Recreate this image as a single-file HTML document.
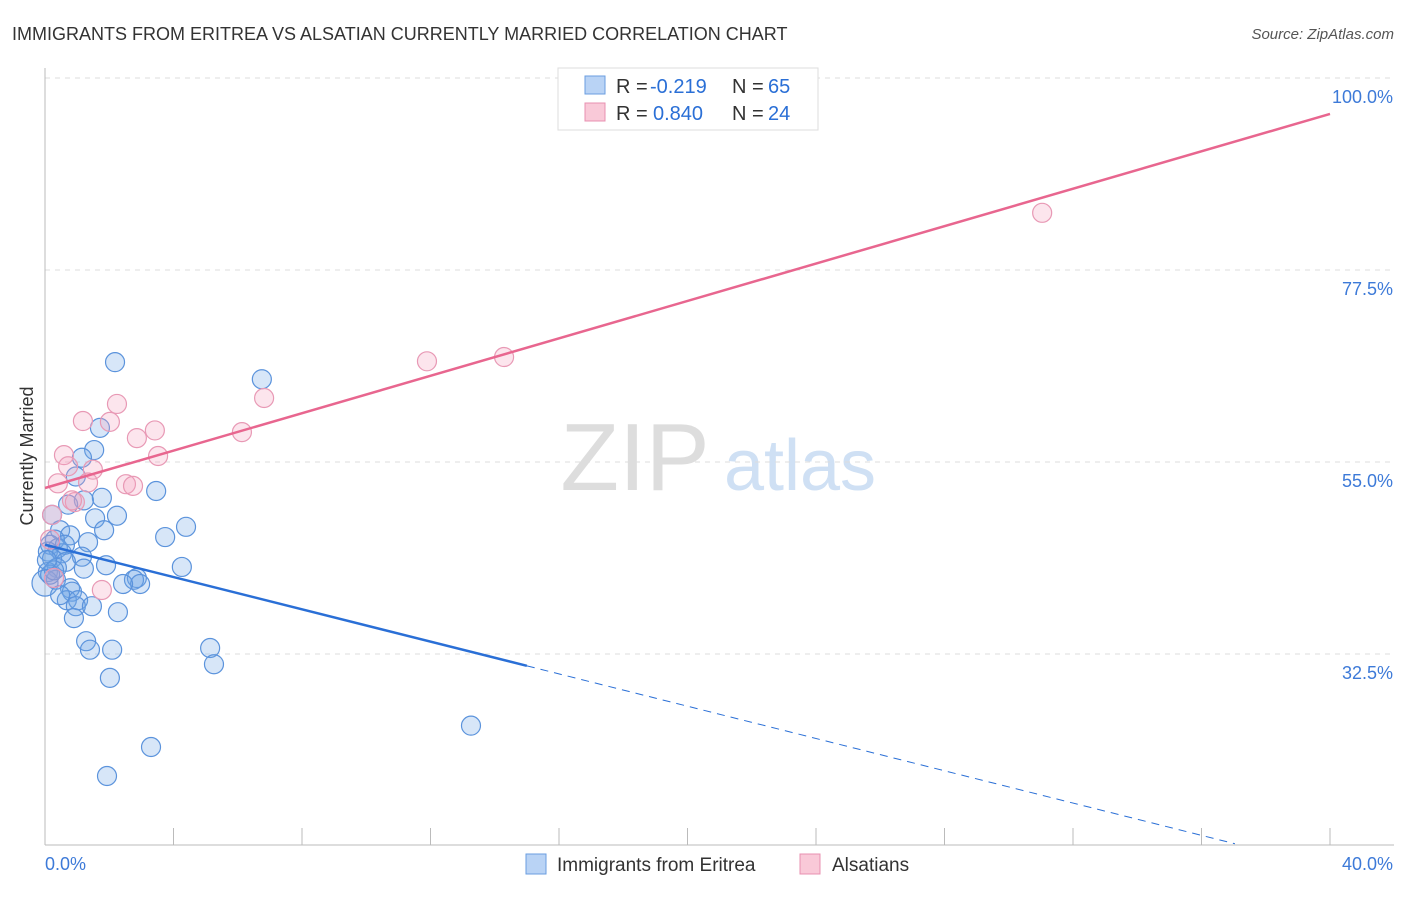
<!DOCTYPE html>
<html><head><meta charset="utf-8"><style>
body{margin:0;background:#fff;font-family:"Liberation Sans",sans-serif;}
svg text{font-family:"Liberation Sans",sans-serif;}
</style></head><body>
<svg id="chart" width="1406" height="892" xmlns="http://www.w3.org/2000/svg">
<text x="12" y="40" font-size="18" fill="#333">IMMIGRANTS FROM ERITREA VS ALSATIAN CURRENTLY MARRIED CORRELATION CHART</text>
<text x="1394" y="39" font-size="15" fill="#555" font-style="italic" text-anchor="end">Source: ZipAtlas.com</text>
<text transform="translate(33,456) rotate(-90)" font-size="18" fill="#333" text-anchor="middle">Currently Married</text>
<g>
<text x="635" y="490" font-size="96" fill="#ddd" font-family="Liberation Serif" text-anchor="middle">ZIP</text>
<text x="800" y="490" font-size="72" fill="#cfe0f4" text-anchor="middle">atlas</text>
</g>
<g id="grid"></g><g id="marks"></g>
<g>
<rect x="558" y="68" width="260" height="62" fill="#fff" stroke="#ddd"/>
<rect x="585" y="76" width="20" height="18" fill="#b9d3f5" stroke="#6a9ee0"/>
<text x="616" y="93" font-size="20" fill="#333">R =</text>
<text x="650" y="93" font-size="20" fill="#2a6fd6">-0.219</text>
<text x="732" y="93" font-size="20" fill="#333">N =</text>
<text x="768" y="93" font-size="20" fill="#2a6fd6">65</text>
<rect x="585" y="103" width="20" height="18" fill="#f9c9d8" stroke="#e890b0"/>
<text x="616" y="120" font-size="20" fill="#333">R =</text>
<text x="653" y="120" font-size="20" fill="#2a6fd6">0.840</text>
<text x="732" y="120" font-size="20" fill="#333">N =</text>
<text x="768" y="120" font-size="20" fill="#2a6fd6">24</text>
</g>
<g>
<rect x="526" y="854" width="20" height="20" fill="#b9d3f5" stroke="#6a9ee0"/>
<text x="557" y="871" font-size="19" fill="#333">Immigrants from Eritrea</text>
<rect x="800" y="854" width="20" height="20" fill="#f9c9d8" stroke="#e890b0"/>
<text x="832" y="871" font-size="19" fill="#333">Alsatians</text>
</g>
</svg>
<script>
const blueX=[2.18,6.75,1.71,1.53,1.15,0.96,3.46,1.77,1.21,0.72,2.24,1.56,0.22,1.84,4.39,0.47,0.78,3.74,1.34,0.31,0.16,0.40,0.09,0.53,1.15,0.22,0.65,1.90,4.26,0.37,1.21,0.09,2.86,2.77,2.96,2.43,0.34,0.78,0.84,0.68,1.03,0.96,1.46,2.27,0.90,1.28,1.40,2.09,5.14,5.26,2.02,13.26,3.30,1.93,0.0,0.16,0.47,0.62,0.28,0.06];
const blueY=[66.7,64.7,59.0,56.4,55.5,53.3,51.6,50.8,50.5,50.0,48.7,48.4,48.8,47.0,47.4,47.0,46.4,46.2,45.6,45.9,45.3,44.9,44.5,44.3,43.9,43.7,43.3,42.9,42.7,42.6,42.5,42.1,41.4,41.2,40.7,40.7,41.2,40.2,39.8,38.8,38.8,38.1,38.1,37.4,36.7,34.0,33.0,33.0,33.2,31.3,29.7,24.1,21.6,18.2,40.8,41.8,39.4,45.3,42.3,43.5];
const pinkX=[31.04,14.29,11.89,6.82,2.24,2.02,1.18,3.42,6.13,2.86,0.59,3.52,0.72,1.49,1.34,0.40,2.52,2.74,0.93,0.22,1.77,0.28,0.16,0.84];
const pinkY=[84.2,67.3,66.8,62.5,61.8,59.7,59.8,58.7,58.5,57.8,55.8,55.7,54.5,54.1,52.6,52.5,52.4,52.2,50.3,48.8,40.0,41.4,45.9,50.5];
const yTicks=[100,77.5,55,32.5];
const yTickLabels=["100.0%","77.5%","55.0%","32.5%"];
const blueTrend=[45.3,-0.946];
const pinkTrend=[51.95,1.096];
const sx=v=>45+v*32.125, sy=v=>78+(100-v)*8.533;
const NS="http://www.w3.org/2000/svg";
function mk(tag,attrs,parent){const e=document.createElementNS(NS,tag);for(const k in attrs)e.setAttribute(k,attrs[k]);parent.appendChild(e);return e;}
const g=document.getElementById('grid'), m=document.getElementById('marks');
yTicks.forEach((t,i)=>{
 const l=mk('line',{x1:45,x2:1394,y1:sy(t),y2:sy(t),stroke:'#ddd','stroke-dasharray':'5,5'},g);
 
 
 const tx=mk('text',{x:1393,y:sy(t)+25,'font-size':18,fill:'#3d7ad8','text-anchor':'end'},g);
 tx.textContent=yTickLabels[i];
 
 
});
const ax=mk('line',{x1:45,x2:45,y1:68,y2:845,stroke:'#bbb'},g);


const bx=mk('line',{x1:45,x2:1394,y1:845,y2:845,stroke:'#bbb'},g);


for(let i=0;i<=10;i++){const t=mk('line',{x1:sx(i*4),x2:sx(i*4),y1:828,y2:845,stroke:'#bbb'},g);
 
 }
const x0=mk('text',{x:45,y:870,'font-size':18,fill:'#3d7ad8'},g);x0.textContent='0.0%';


const x1=mk('text',{x:1393,y:870,'font-size':18,fill:'#3d7ad8','text-anchor':'end'},g);x1.textContent='40.0%';


blueX.forEach((x,i)=>{const c=mk('circle',{cx:sx(x),cy:sy(blueY[i]),r:(i==54?13:9.5),fill:'rgba(110,165,230,0.28)',stroke:'#5b93dc','stroke-width':1.2},m);
 
 });
pinkX.forEach((x,i)=>{const c=mk('circle',{cx:sx(x),cy:sy(pinkY[i]),r:9.5,fill:'rgba(245,160,190,0.28)',stroke:'#e899b5','stroke-width':1.2},m);
 
 });
const bl=mk('line',{x1:sx(0),y1:sy(blueTrend[0]),x2:sx(15),y2:sy(blueTrend[0]+15*blueTrend[1]),stroke:'#2a6fd6','stroke-width':2.5},m);


const bd=mk('line',{x1:sx(15),y1:sy(blueTrend[0]+15*blueTrend[1]),x2:sx(37.04),y2:sy(blueTrend[0]+37.04*blueTrend[1]),stroke:'#2a6fd6','stroke-width':1,'stroke-dasharray':'8,6'},m);


const pl=mk('line',{x1:sx(0),y1:sy(pinkTrend[0]),x2:sx(40),y2:sy(pinkTrend[0]+40*pinkTrend[1]),stroke:'#e8668f','stroke-width':2.5},m);


</script>
</body></html>
